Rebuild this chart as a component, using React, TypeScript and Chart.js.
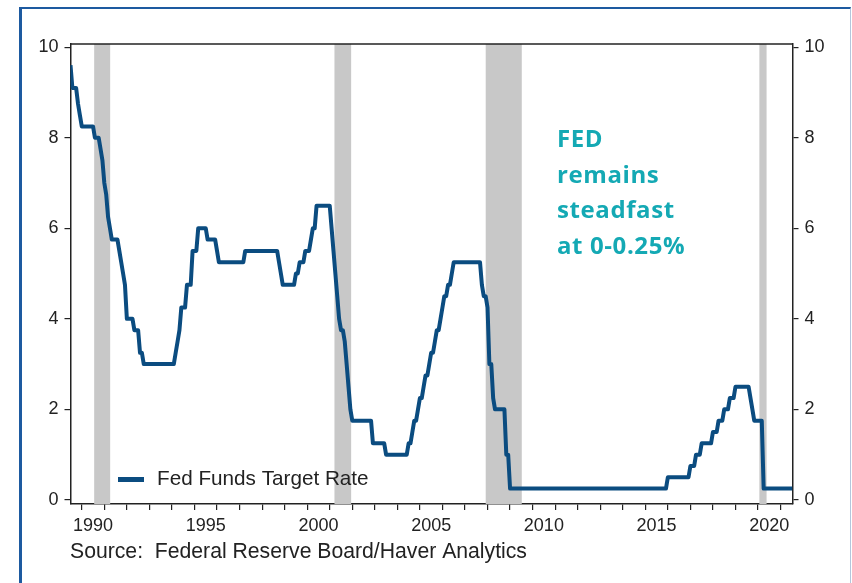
import React, { useEffect, useRef } from 'react';
import { Chart, registerables } from 'chart.js';

Chart.register(...registerables);

// Fed funds target rate: dates (decimal years) at which the rate changed, and the new rate
const changeDates = [
  1989.5, 1989.5, 1989.75, 1989.833, 1989.917,
  1990.5, 1990.75, 1990.833, 1990.917, 1991.0, 1991.083, 1991.167, 1991.25,
  1991.583, 1991.667, 1991.75, 1991.833, 1991.917, 1992.25, 1992.5, 1992.667,
  1994.083, 1994.167, 1994.25, 1994.333, 1994.583, 1994.833, 1995.083, 1995.5,
  1995.917, 1996.0, 1997.167, 1998.667, 1998.75, 1998.833, 1999.417, 1999.583,
  1999.833, 2000.083, 2000.167, 2000.333, 2001.0, 2001.083, 2001.167, 2001.25,
  2001.333, 2001.417, 2001.583, 2001.667, 2001.75, 2001.833, 2001.917, 2002.833,
  2003.417, 2004.417, 2004.583, 2004.667, 2004.833, 2004.917, 2005.083, 2005.167,
  2005.333, 2005.417, 2005.583, 2005.667, 2005.833, 2005.917, 2006.0, 2006.167,
  2006.333, 2006.417, 2007.667, 2007.75, 2007.917, 2008.0, 2008.167, 2008.25,
  2008.75, 2008.917, 2015.917, 2016.917, 2017.167, 2017.417, 2017.917, 2018.167,
  2018.417, 2018.667, 2018.917, 2019.583, 2019.667, 2019.75, 2020.167,
];
const changeRates = [
  9.6, 9.1, 8.75, 8.5, 8.25,
  8.0, 7.75, 7.5, 7.0, 6.75, 6.25, 6.0, 5.75,
  5.5, 5.25, 5.0, 4.75, 4.0, 3.75, 3.25, 3.0,
  3.25, 3.5, 3.75, 4.25, 4.75, 5.5, 6.0, 5.75,
  5.5, 5.25, 5.5, 5.25, 5.0, 4.75, 5.0, 5.25,
  5.5, 5.75, 6.0, 6.5, 6.0, 5.5, 5.0, 4.5,
  4.0, 3.75, 3.5, 3.0, 2.5, 2.0, 1.75, 1.25,
  1.0, 1.25, 1.5, 1.75, 2.0, 2.25, 2.5, 2.75,
  3.0, 3.25, 3.5, 3.75, 4.0, 4.25, 4.5, 4.75,
  5.0, 5.25, 4.75, 4.5, 4.25, 3.0, 2.25, 2.0,
  1.0, 0.25, 0.5, 0.75, 1.0, 1.25, 1.5, 1.75,
  2.0, 2.25, 2.5, 2.25, 2.0, 1.75, 0.25,
];
const seriesEnd = 2021.53;

const recessionStarts = [1990.55, 2001.21, 2007.92, 2020.06];
const recessionEnds = [1991.26, 2001.95, 2009.52, 2020.38];

const labeledYears = [1990, 1995, 2000, 2005, 2010, 2015, 2020];
const yearTickMarks = Array.from({ length: 32 }, (_, i) => 1990 + i);
const rateTicks = [0, 2, 4, 6, 8, 10];

const seriesLabel = 'Fed Funds Target Rate';
const sourceText = 'Source:  Federal Reserve Board/Haver Analytics';
const noteLines = ['FED', 'remains', 'steadfast', 'at 0-0.25%'];

const LINE_COLOR = '#0b4c80';
const TEXT_COLOR = '#222222';
const TICK_FONT = { family: 'Arial, "Liberation Sans", sans-serif', size: 18 };

function buildPoints() {
  const pts: { x: number; y: number }[] = [{ x: changeDates[0], y: changeRates[0] }];
  for (let i = 1; i < changeDates.length; i++) {
    pts.push({ x: changeDates[i], y: changeRates[i - 1] });
    pts.push({ x: changeDates[i] + 1 / 12, y: changeRates[i] });
  }
  pts.push({ x: seriesEnd, y: changeRates[changeRates.length - 1] });
  return pts;
}

const decorPlugin = {
  id: 'decor',
  beforeDatasetsDraw(chart: any) {
    const { ctx, chartArea, scales } = chart;
    ctx.save();
    ctx.fillStyle = '#c8c8c8';
    recessionStarts.forEach((s, i) => {
      const x0 = scales.x.getPixelForValue(s);
      const x1 = scales.x.getPixelForValue(recessionEnds[i]);
      ctx.fillRect(x0, chartArea.top, x1 - x0, chartArea.bottom - chartArea.top);
    });
    ctx.restore();
  },
  afterDraw(chart: any) {
    const { ctx, chartArea } = chart;
    ctx.save();
    // top frame line
    ctx.strokeStyle = TEXT_COLOR;
    ctx.lineWidth = 1.5;
    ctx.beginPath();
    ctx.moveTo(chartArea.left, chartArea.top);
    ctx.lineTo(chartArea.right, chartArea.top);
    ctx.stroke();

    // legend
    ctx.strokeStyle = LINE_COLOR;
    ctx.lineWidth = 5;
    ctx.beginPath();
    ctx.moveTo(118, 479.5);
    ctx.lineTo(144, 479.5);
    ctx.stroke();
    ctx.fillStyle = TEXT_COLOR;
    ctx.font = '20.7px Arial, "Liberation Sans", sans-serif';
    ctx.textBaseline = 'middle';
    ctx.textAlign = 'left';
    ctx.fillText(seriesLabel, 157, 479);

    // source
    ctx.font = '21.2px Arial, "Liberation Sans", sans-serif';
    ctx.fillText(sourceText, 70, 552);

    // annotation
    ctx.fillStyle = '#14a9b4';
    ctx.font = 'bold 24px "Open Sans", sans-serif';
    try {
      (ctx as any).letterSpacing = '0.6px';
    } catch (e) {
      /* ignore */
    }
    ctx.textBaseline = 'alphabetic';
    noteLines.forEach((t, i) => ctx.fillText(t, 557, 147 + i * 35.5));
    ctx.restore();
  },
};

export default function App() {
  const ref = useRef<HTMLCanvasElement>(null);
  useEffect(() => {
    if (!ref.current) return;
    const yScale = (position: 'left' | 'right', width: number) => ({
      type: 'linear',
      position,
      min: -0.09,
      max: 10.07,
      afterBuildTicks: (s: any) => {
        s.ticks = rateTicks.map((v) => ({ value: v }));
      },
      afterFit: (s: any) => {
        s.width = width;
      },
      grid: { drawOnChartArea: false, drawTicks: true, tickLength: 6, color: TEXT_COLOR, lineWidth: 1.2 },
      border: { display: true, color: TEXT_COLOR, width: 1.5 },
      ticks: { color: TEXT_COLOR, font: TICK_FONT, padding: 6, callback: (v: any) => String(v) },
    });
    const chart = new Chart(ref.current, {
      type: 'line',
      data: {
        datasets: [
          {
            label: seriesLabel,
            data: buildPoints(),
            borderColor: LINE_COLOR,
            borderWidth: 4,
            pointRadius: 0,
            tension: 0,
            fill: false,
            borderJoinStyle: 'round',
          },
        ],
      },
      options: {
        animation: false,
        responsive: false,
        maintainAspectRatio: false,
        layout: { padding: { top: 44, left: 0, right: 0, bottom: 0 } },
        plugins: { legend: { display: false }, tooltip: { enabled: false } },
        scales: {
          x: {
            type: 'linear',
            min: 1989.5,
            max: 2021.53,
            afterBuildTicks: (s: any) => {
              s.ticks = yearTickMarks.map((v) => ({ value: v }));
            },
            afterFit: (s: any) => {
              s.height = 79;
            },
            grid: { drawOnChartArea: false, drawTicks: true, tickLength: 6, color: TEXT_COLOR, lineWidth: 1.2 },
            border: { display: true, color: TEXT_COLOR, width: 1.5 },
            ticks: {
              autoSkip: false,
              maxRotation: 0,
              color: TEXT_COLOR,
              font: TICK_FONT,
              padding: 5,
              labelOffset: 11.27,
              callback: (v: any) => (labeledYears.includes(Math.round(v)) ? String(Math.round(v)) : ''),
            },
          },
          y: yScale('left', 70.5),
          y2: yScale('right', 59.5),
        },
      } as any,
      plugins: [decorPlugin],
    } as any);
    return () => chart.destroy();
  }, []);

  return (
    <div style={{ position: 'fixed', left: 0, top: 0, width: 852, height: 583, background: '#fff', overflow: 'hidden' }}>
      <div
        style={{
          position: 'absolute',
          left: 19,
          top: 7,
          width: 828,
          height: 620,
          borderLeft: '3px solid #1d5aa0',
          borderTop: '2px solid #1d5aa0',
          borderRight: '1px solid #b3c6dc',
        }}
      />
      <canvas ref={ref} width={852} height={583} style={{ position: 'absolute', left: 0, top: 0, width: 852, height: 583 }} />
    </div>
  );
}
